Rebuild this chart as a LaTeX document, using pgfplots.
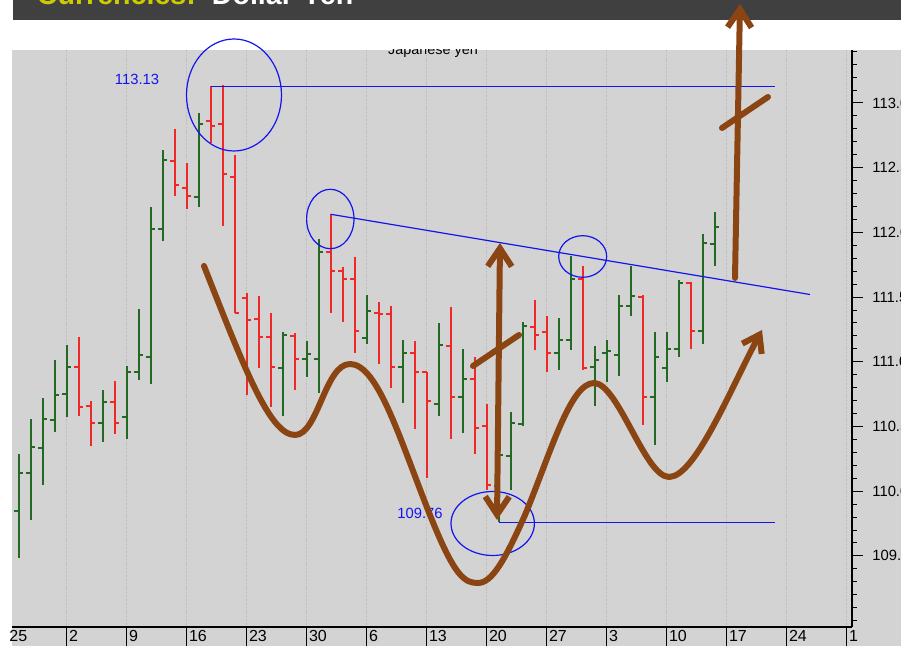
\documentclass[border=0pt]{standalone}
\usepackage{pgfplots}
\pgfplotsset{compat=1.18}
\usepackage{pgfplotstable}
\usepackage{fontspec}
\setmainfont{Liberation Sans}
\usetikzlibrary{arrows.meta}
\definecolor{bgc}{RGB}{211,211,211}
\definecolor{ttl}{RGB}{64,64,64}
\definecolor{ylw}{RGB}{204,204,0}
\definecolor{upg}{RGB}{35,105,35}
\definecolor{dnr}{RGB}{240,40,40}
\definecolor{blu}{RGB}{20,20,240}
\definecolor{brn}{RGB}{139,69,19}
\definecolor{gridc}{RGB}{185,185,185}
\pgfdeclareplotmark{otick}{%
  \pgfpathmoveto{\pgfqpoint{-\pgfplotmarksize}{0pt}}%
  \pgfpathlineto{\pgfqpoint{0pt}{0pt}}%
  \pgfusepathqstroke}
\pgfdeclareplotmark{ctick}{%
  \pgfpathmoveto{\pgfqpoint{0pt}{0pt}}%
  \pgfpathlineto{\pgfqpoint{\pgfplotmarksize}{0pt}}%
  \pgfusepathqstroke}

\pgfplotstableread{
i O H L C
1 109.85 110.29 109.48 110.14
2 110.14 110.56 109.78 110.34
3 110.33 110.72 110.05 110.56
4 110.55 111.01 110.46 110.74
5 110.75 111.13 110.57 110.96
8 110.53 110.78 110.38 110.69
10 110.57 110.97 110.40 110.92
11 110.92 111.41 110.86 111.05
12 111.04 112.20 110.83 112.03
13 112.03 112.64 111.93 112.56
16 112.27 112.92 112.20 112.84
23 110.95 111.23 110.58 111.21
25 111.02 111.16 110.88 111.06
26 111.02 111.95 110.76 111.85
30 111.18 111.52 111.14 111.39
33 110.96 111.17 110.68 111.07
36 110.67 111.30 110.58 111.13
38 110.73 111.10 110.45 110.87
41 110.04 110.33 109.76 110.28
42 110.27 110.61 110.01 110.53
43 110.52 111.31 110.50 111.28
46 111.07 111.34 110.94 111.17
47 111.17 111.82 111.09 111.64
49 110.96 111.12 110.66 111.01
50 111.07 111.17 110.84 111.08
51 111.05 111.52 110.89 111.43
52 111.43 111.74 111.35 111.51
54 110.73 111.23 110.36 111.04
55 110.95 111.23 110.84 111.10
56 111.10 111.63 111.04 111.61
58 111.24 111.99 111.14 111.92
59 111.91 112.16 111.74 112.04
}\upbars

\pgfplotstableread{
i O H L C
6 110.96 111.19 110.58 110.65
7 110.66 110.70 110.35 110.53
9 110.69 110.85 110.44 110.53
14 112.55 112.80 112.28 112.37
15 112.34 112.54 112.18 112.28
17 112.86 113.13 112.69 112.82
18 112.84 113.14 112.05 112.45
19 112.43 112.60 111.38 111.38
20 111.49 111.53 110.74 111.32
21 111.33 111.51 110.95 111.19
22 111.19 111.38 110.65 110.96
24 111.20 111.22 110.78 111.02
27 111.85 112.14 111.38 111.70
28 111.70 111.73 111.31 111.64
29 111.64 111.81 111.07 111.24
31 111.38 111.46 110.98 111.37
32 111.37 111.43 110.80 110.96
34 111.07 111.16 110.48 110.92
35 110.92 110.92 110.10 110.70
37 111.12 111.42 110.40 110.73
39 110.87 111.04 110.29 110.49
40 110.50 110.67 110.01 110.05
44 111.27 111.48 111.09 111.21
45 111.23 111.35 110.92 111.07
48 111.64 111.74 110.94 110.95
53 111.50 111.52 110.51 110.73
57 111.61 111.62 111.10 111.24
}\downbars

\begin{document}
\begin{tikzpicture}
\useasboundingbox (0,0) rectangle (450.5pt,323pt);
\begin{scope}[x=0.5pt,y=-0.5pt,shift={(0pt,323pt)}]
  \fill[bgc] (12,50) rectangle (906,650);
  \fill[ttl] (12.5,-5) rectangle (906,20.5);
  \node[anchor=base west,inner sep=0pt,text=ylw,font=\bfseries\fontsize{14.3}{15}\selectfont] at (36.5,4.5) {Currencies:};
  \node[anchor=base west,inner sep=0pt,text=white,font=\bfseries\fontsize{14.3}{15}\selectfont] at (211.5,4.5) {Dollar-Yen};
  \begin{scope}
    \clip (12,50) rectangle (852,200);
    \node[anchor=base,inner sep=0pt,font=\fontsize{7.2}{8}\selectfont] at (433,55) {Japanese yen};
  \end{scope}
\end{scope}

\begin{axis}[
  at={(6pt,9.5pt)}, anchor=south west,
  scale only axis, width=420pt, height=288.5pt,
  xmin=0.4417, xmax=70.4417, ymin=108.9505, ymax=113.4096,
  axis x line*=bottom, axis y line*=right,
  axis line style={black, line width=0.6pt},
  xtick={5,10,...,70},
  xticklabels={2,9,16,23,30,6,13,20,27,3,10,17,24,1},
  x tick style={draw=none},
  xticklabel style={anchor=north west, inner sep=0pt, xshift=1pt, yshift=4pt, font=\fontsize{8}{9}\selectfont},
  xmajorgrids,
  x grid style={draw=gridc, line width=0.5pt, dash pattern=on 0.6pt off 0.6pt},
  ytick={109.5,110,...,113},
  yticklabels={109.5,110.0,110.5,111.0,111.5,112.0,112.5,113.0},
  minor ytick={109.0,109.1,...,113.4},
  tick align=outside,
  major tick length=5.5pt, minor tick length=2.5pt,
  y tick style={black, line width=0.5pt},
  yticklabel style={anchor=west, inner sep=0pt, xshift=4.5pt, font=\fontsize{7.4}{8}\selectfont},
  clip=false,
]
\addplot[upg, only marks, mark=otick, mark size=2.2pt, mark options={line width=1pt, solid},
  error bars/.cd, y dir=both, y explicit, error mark=none,
  error bar style={upg, line width=1pt}]
  table[x=i, y=O, y error plus expr=\thisrow{H}-\thisrow{O}, y error minus expr=\thisrow{O}-\thisrow{L}] {\upbars};
\addplot[upg, only marks, mark=ctick, mark size=2.2pt, mark options={line width=1pt, solid}]
  table[x=i, y=C] {\upbars};
\addplot[dnr, only marks, mark=otick, mark size=2.2pt, mark options={line width=1pt, solid},
  error bars/.cd, y dir=both, y explicit, error mark=none,
  error bar style={dnr, line width=1pt}]
  table[x=i, y=O, y error plus expr=\thisrow{H}-\thisrow{O}, y error minus expr=\thisrow{O}-\thisrow{L}] {\downbars};
\addplot[dnr, only marks, mark=ctick, mark size=2.2pt, mark options={line width=1pt, solid}]
  table[x=i, y=C] {\downbars};
% support / resistance lines
\addplot[blu, line width=0.6pt, mark=none] coordinates {(17,113.13) (64,113.13)};
\addplot[blu, line width=0.6pt, mark=none] coordinates {(41,109.76) (64,109.76)};
\addplot[blu, line width=0.6pt, mark=none] coordinates {(27,112.14) (66.94,111.52)};
\node[text=blu, font=\fontsize{7.4}{8}\selectfont] at (axis cs:10.86,113.185) {113.13};
\node[text=blu, font=\fontsize{7.4}{8}\selectfont] at (axis cs:34.44,109.83) {109.76};
\end{axis}

\begin{scope}[x=0.5pt,y=-0.5pt,shift={(0pt,323pt)}]
  \foreach \k in {1,...,14} \draw[black,line width=0.5pt] ({6.7+60*\k},627) -- ({6.7+60*\k},646);
  \node[anchor=north west,inner sep=0pt,font=\fontsize{8}{9}\selectfont] at (9,630) {25};
  % ellipses
  \draw[blu, line width=0.6pt] (234,95) ellipse [x radius=47.5, y radius=56];
  \draw[blu, line width=0.6pt] (330.3,219) ellipse [x radius=23.7, y radius=29.7];
  \draw[blu, line width=0.6pt] (582.7,256.5) ellipse [x radius=24, y radius=20.8];
  \draw[blu, line width=0.6pt] (492.7,523.5) ellipse [x radius=41.7, y radius=32];
  % brown annotations
  \begin{scope}[brn, line width=3pt, line cap=round, line join=round]
    \draw[-{Straight Barb[length=8pt,width=11pt]}]
      (204,266) .. controls (245,370) and (270,435) .. (295,435)
      .. controls (318,435) and (325,364) .. (350,364)
      .. controls (378,364) and (400,440) .. (430,515)
      .. controls (455,578) and (465,583) .. (478,583)
      .. controls (492,583) and (505,560) .. (525,515)
      .. controls (550,455) and (570,383) .. (594,383)
      .. controls (618,383) and (645,477) .. (669,477)
      .. controls (695,477) and (730,390) .. (762,330);
    \draw[{Straight Barb[length=9pt,width=12pt]}-{Straight Barb[length=9pt,width=12pt]}] (500,243) -- (497,520);
    \draw (473,366) -- (519,335);
    \draw[-{Straight Barb[length=9pt,width=12pt]}] (735,278) -- (740,4);
    \draw (722,128) -- (768,97);
  \end{scope}
\end{scope}
\end{tikzpicture}
\end{document}
